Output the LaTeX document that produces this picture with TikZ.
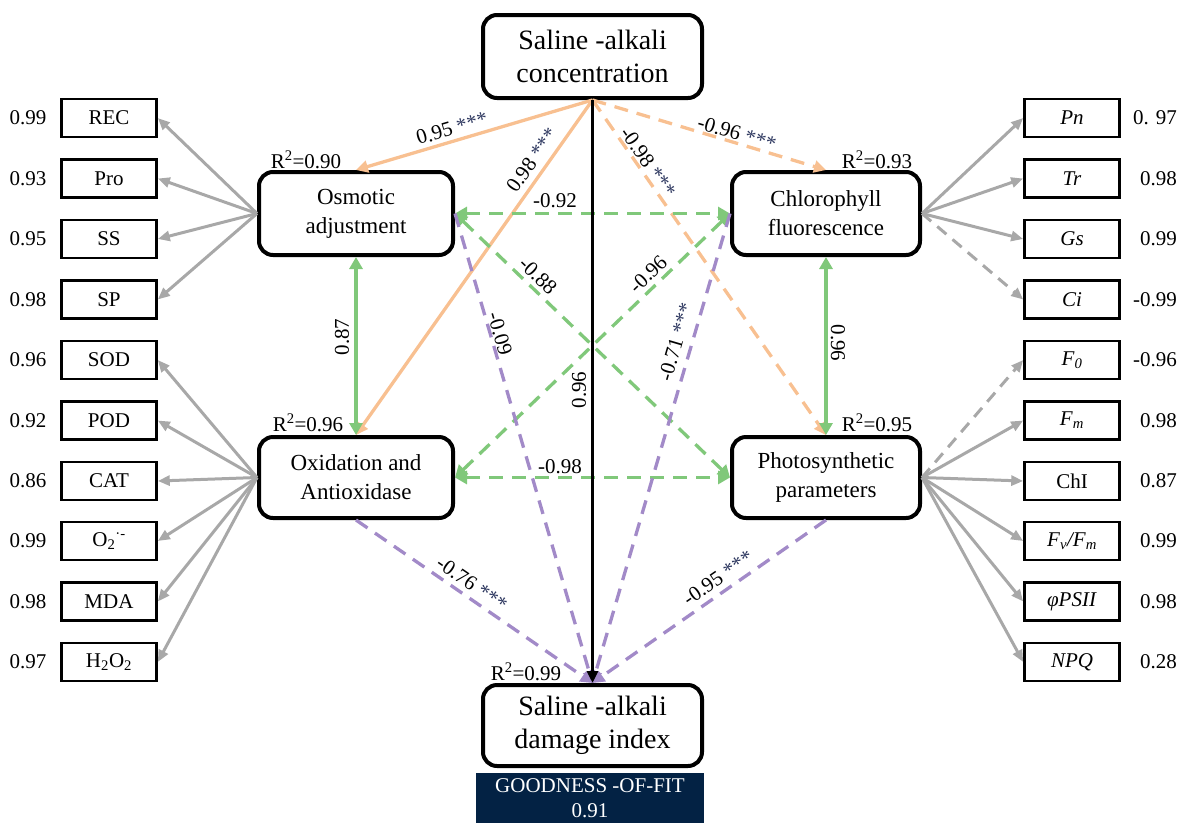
\documentclass[tikz,border=0pt]{standalone}
\usepackage{fontspec}
\setmainfont{Liberation Serif}
\usetikzlibrary{arrows.meta}
\definecolor{orng}{RGB}{248,192,145}
\definecolor{grn}{RGB}{128,200,122}
\definecolor{prp}{RGB}{162,138,200}
\definecolor{gry}{RGB}{168,168,168}
\definecolor{navy}{RGB}{3,34,68}
\definecolor{starc}{RGB}{45,55,95}
\begin{document}
\begin{tikzpicture}[x=1pt,y=-1pt,
  bigbox/.style={draw, line width=4pt, rounded corners=14pt, fill=white, align=center, inner sep=0pt, minimum width=194pt, minimum height=83pt, font=\fontsize{23}{29}\selectfont},
  endbox/.style={bigbox, minimum width=219pt, font=\fontsize{28}{33}\selectfont},
  ind/.style={draw, line width=2.6pt, fill=white, minimum width=95pt, minimum height=38pt, inner sep=0pt, font=\fontsize{21}{25}\selectfont},
  num/.style={font=\fontsize{21}{25}\selectfont, inner sep=0pt},
  lbl/.style={font=\fontsize{21}{25}\selectfont, inner sep=0pt},
  gryarr/.style={draw=gry, line width=3pt, -{Triangle[length=12pt,width=10pt]}},
  grydash/.style={gryarr, dash pattern=on 12pt off 8pt},
  grnarr/.style={draw=grn, line width=3.3pt, {Triangle[length=12pt,width=13pt]}-{Triangle[length=12pt,width=13pt]}},
  grndash/.style={grnarr, dash pattern=on 14pt off 9pt},
  orarr/.style={draw=orng, line width=3.3pt, -{Triangle[length=12pt,width=12pt]}},
  ordash/.style={orarr, dash pattern=on 14pt off 9pt},
  prpdash/.style={draw=prp, line width=3.3pt, dash pattern=on 14pt off 9pt, -{Triangle[length=12pt,width=12pt]}},
  blkarr/.style={draw=black, line width=3.3pt, -{Triangle[length=12pt,width=11pt]}}
]
\useasboundingbox (0,0) rectangle (1181,823);

% main boxes
\node[endbox] (top) at (592.5,56.5) {Saline -alkali\\concentration};
\node[bigbox] (osm) at (356,213.5) {Osmotic\\adjustment};
\node[bigbox, minimum height=81pt] (oxi) at (356,477.5) {Oxidation and\\Antioxidase};
\node[bigbox, minimum width=188pt] (chl) at (826,213.5) {Chlorophyll\\fluorescence};
\node[bigbox, minimum width=188pt, minimum height=81pt] (pho) at (826,477.5) {Photosynthetic\\parameters};
\node[endbox, minimum height=81pt] (dmg) at (592.5,725.5) {Saline -alkali\\damage index};
\node[fill=navy, text=white, minimum width=228pt, minimum height=50pt, inner sep=0pt, align=center, font=\fontsize{21}{25}\selectfont] (gof) at (590,798) {GOODNESS -OF-FIT\\0.91};

% R2 labels
\node[lbl] (r2osm) at (306,160) {R\textsuperscript{2}=0.90};
\node[lbl] (r2oxi) at (308,423) {R\textsuperscript{2}=0.96};
\node[lbl] (r2chl) at (877,160) {R\textsuperscript{2}=0.93};
\node[lbl] (r2pho) at (877,423) {R\textsuperscript{2}=0.95};
\node[lbl] (r2dmg) at (526,672) {R\textsuperscript{2}=0.99};

% left indicators
\node[ind] (rec) at (109,118) {REC};   \node[num] (nrec) at (28,118) {0.99};
\node[ind] (pro) at (109,178.5) {Pro}; \node[num] (npro) at (28,178.5) {0.93};
\node[ind] (ss)  at (109,239) {SS};    \node[num] (nss) at (28,239) {0.95};
\node[ind] (sp)  at (109,299.5) {SP};  \node[num] (nsp) at (28,299.5) {0.98};
\node[ind] (sod) at (109,360) {SOD};   \node[num] (nsod) at (28,360) {0.96};
\node[ind] (pod) at (109,420.5) {POD}; \node[num] (npod) at (28,420.5) {0.92};
\node[ind] (cat) at (109,481) {CAT};   \node[num] (ncat) at (28,481) {0.86};
\node[ind] (oo)  at (109,541) {O\textsubscript{2}\textsuperscript{·-}}; \node[num] (noo) at (28,541) {0.99};
\node[ind] (mda) at (109,601.5) {MDA}; \node[num] (nmda) at (28,601.5) {0.98};
\node[ind] (hho) at (109,662) {H\textsubscript{2}O\textsubscript{2}}; \node[num] (nhho) at (28,662) {0.97};

% right indicators
\node[ind] (pn) at (1072,118) {\textit{Pn}};   \node[num, anchor=east] (npn) at (1177,118) {0. 97};
\node[ind] (tr) at (1072,178.5) {\textit{Tr}}; \node[num, anchor=east] (ntr) at (1177,178.5) {0.98};
\node[ind] (gs) at (1072,239) {\textit{Gs}};   \node[num, anchor=east] (ngs) at (1177,239) {0.99};
\node[ind] (ci) at (1072,299.5) {\textit{Ci}}; \node[num, anchor=east] (nci) at (1177,299.5) {-0.99};
\node[ind] (fo) at (1072,360) {\textit{F}\textsubscript{\textit{0}}}; \node[num, anchor=east] (nfo) at (1177,360) {-0.96};
\node[ind] (fm) at (1072,420.5) {\textit{F}\textsubscript{\textit{m}}}; \node[num, anchor=east] (nfm) at (1177,420.5) {0.98};
\node[ind] (chi) at (1072,481) {ChI}; \node[num, anchor=east] (nchi) at (1177,481) {0.87};
\node[ind] (fvfm) at (1072,541) {\textit{F}\textsubscript{\textit{v}}\textit{/F}\textsubscript{\textit{m}}}; \node[num, anchor=east] (nfvfm) at (1177,541) {0.99};
\node[ind] (psii) at (1072,601.5) {\textit{φPSII}}; \node[num, anchor=east] (npsii) at (1177,601.5) {0.98};
\node[ind] (npq) at (1072,662) {\textit{NPQ}}; \node[num, anchor=east] (nnpq) at (1177,662) {0.28};

% gray indicator arrows
\foreach \b in {rec,pro,ss,sp} \draw[gryarr] (osm.west) -- (\b.east);
\foreach \b in {sod,pod,cat,oo,mda,hho} \draw[gryarr] (oxi.west) -- (\b.east);
\foreach \b in {pn,tr,gs} \draw[gryarr] (chl.east) -- (\b.west);
\draw[grydash] (chl.east) -- (ci.west);
\draw[grydash] (pho.east) -- (fo.west);
\foreach \b in {fm,chi,fvfm,psii,npq} \draw[gryarr] (pho.east) -- (\b.west);

% orange paths from concentration
\draw[orarr] (top.south) -- (osm.north);
\draw[orarr] (top.south) -- (oxi.north);
\draw[ordash] (top.south) -- (chl.north);
\draw[ordash] (top.south) -- (pho.north);

% green correlations
\draw[grnarr] (osm.south) -- (oxi.north);
\draw[grnarr] (chl.south) -- (pho.north);
\draw[grndash] (osm.east) -- (chl.west);
\draw[grndash] (oxi.east) -- (pho.west);
\draw[grndash] (osm.east) -- (pho.west);
\draw[grndash] (chl.west) -- (oxi.east);

% purple paths to damage index
\draw[prpdash] (osm.east) -- (dmg.north);
\draw[prpdash] (chl.west) -- (dmg.north);
\draw[prpdash] (oxi.south) -- (dmg.north);
\draw[prpdash] (pho.south) -- (dmg.north);

% black direct path
\draw[blkarr] (top.south) -- (dmg.north);

% path labels
\node[lbl, rotate=16.5] (l1) at (452,128) {0.95 \textcolor{starc}{***}};
\node[lbl, rotate=54.8] (l2) at (532,160) {0.98 \textcolor{starc}{***}};
\node[lbl, rotate=-16.5] (l3) at (737,133) {-0.96 \textcolor{starc}{***}};
\node[lbl, rotate=-54.8] (l4) at (648,162) {-0.98 \textcolor{starc}{***}};
\node[lbl] (l5) at (555,201) {-0.92};
\node[lbl] (l6) at (560,467) {-0.98};
\node[lbl, rotate=-43.9] (l7) at (538,276) {-0.88};
\node[lbl, rotate=43.9] (l8) at (648,274) {-0.96};
\node[lbl, rotate=90] (l9) at (342,337) {0.87};
\node[lbl, rotate=-90] (l10) at (838,343) {0.96};
\node[lbl, rotate=90] (l11) at (579,390) {0.96};
\node[lbl, rotate=-73.7] (l12) at (500,334) {-0.09};
\node[lbl, rotate=73.7] (l13) at (676,342) {-0.71 \textcolor{starc}{***}};
\node[lbl, rotate=-34.6] (l14) at (472,584) {-0.76 \textcolor{starc}{***}};
\node[lbl, rotate=34.6] (l15) at (718,578) {-0.95 \textcolor{starc}{***}};
\end{tikzpicture}
\end{document}
